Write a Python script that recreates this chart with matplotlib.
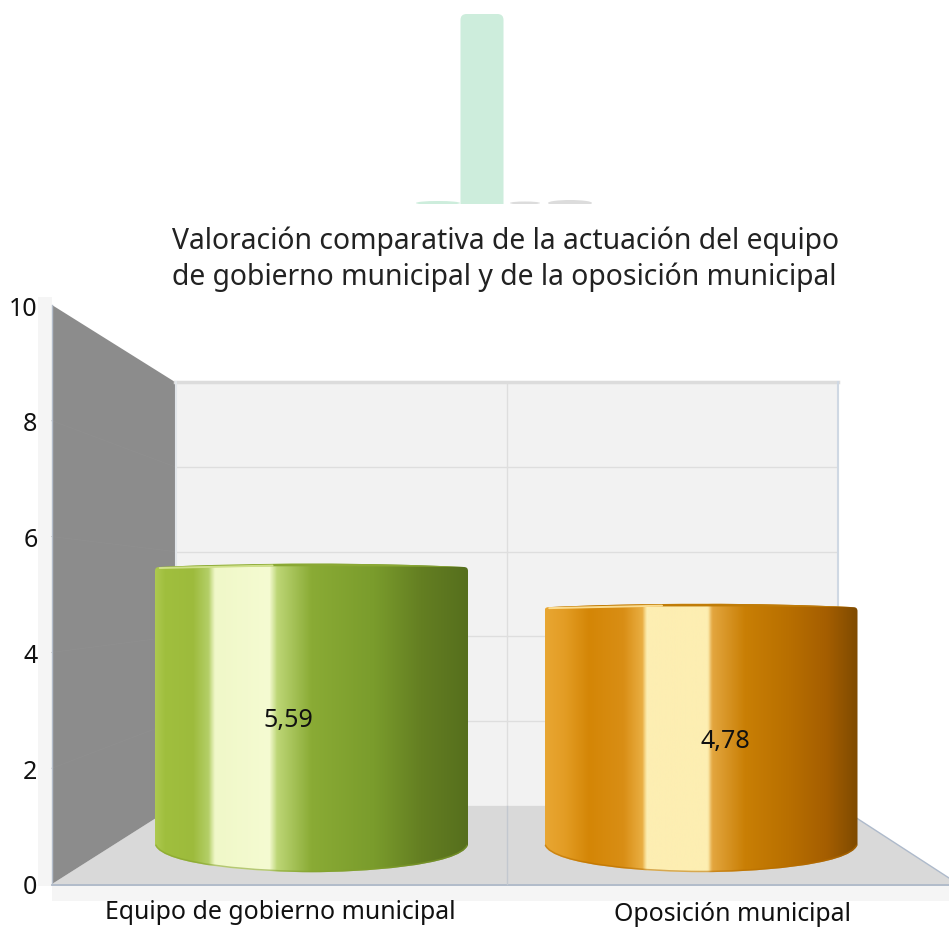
import numpy as np
import matplotlib
matplotlib.use('Agg')
import matplotlib.pyplot as plt
from matplotlib.colors import LinearSegmentedColormap
from matplotlib.path import Path
from matplotlib.patches import PathPatch, Polygon, Rectangle, FancyBboxPatch, Ellipse

plt.rcParams['font.family'] = ['Noto Sans', 'DejaVu Sans']

W, H = 949, 928

# data
categories = ['Equipo de gobierno municipal', 'Oposición municipal']
values = [5.59, 4.78]
y_ticks = [0, 2, 4, 6, 8, 10]
title = 'Valoración comparativa de la actuación del equipo\nde gobierno municipal y de la oposición municipal'

# faded remains of another chart at the top of the picture (height in pixels)
ghost_x = [438, 482, 525, 570]
ghost_h = [2, 190, 1.5, 3]
ghost_w = [44, 43, 30, 44]
ghost_c = ['#cdeddc', '#cdeddc', '#dcdcdc', '#dcdcdc']

# colour stops across the cylinders
green_stops = [(0, '#adc94f'), (.03, '#a0bf3e'), (.12, '#9dbb3c'), (.17, '#b4cf68'), (.19, '#f0f8c8'),
               (.365, '#f5fbd2'), (.39, '#bdd676'), (.5, '#8aab35'), (.7, '#7a9c2c'), (.85, '#647f22'), (1, '#566f1d')]
orange_stops = [(0, '#e8a632'), (.06, '#e39d25'), (.14, '#d48606'), (.25, '#d98e15'), (.31, '#e9ae42'), (.325, '#fdeeb2'),
                (.52, '#fdeeb2'), (.535, '#e3a63f'), (.64, '#c97f05'), (.78, '#b86f00'), (.9, '#a55e00'), (1, '#7f4b00')]
cmaps = [LinearSegmentedColormap.from_list('g', green_stops), LinearSegmentedColormap.from_list('o', orange_stops)]
rim_dark = ['#8aa834', '#c07c08']
rim_light = ['#cfe08a', '#fbdc90']
base_dark = ['#83a02c', '#b86f00']


def px_axes(x0, y_top, x1, y_bot, **kw):
    # axes placed using picture pixels
    return fig.add_axes([x0 / W, 1 - y_bot / H, (x1 - x0) / W, (y_bot - y_top) / H], **kw)


fig = plt.figure(figsize=(W / 100, H / 100), dpi=100, facecolor='white')

# back wall
back = px_axes(175, 383, 838, 807, facecolor='#f2f2f2', zorder=1)
back.set_ylim(0, 10)
back.set_xlim(175, 838)
back.set_xticks([])
back.set_yticks(y_ticks)
back.set_yticklabels([])
back.tick_params(length=0)
back.grid(axis='y', color='#dedede', lw=1)
back.axvline(507, color='#dedede', lw=1)
for s in back.spines.values():
    s.set_visible(False)

# pixel overlay for walls, floor and the faded shapes
chrome = fig.add_axes([0, 0, 1, 1], zorder=2, facecolor='none')
chrome.set_xlim(0, W)
chrome.set_ylim(H, 0)
chrome.axis('off')
chrome.add_patch(Rectangle((38, 298), 14, 589, fc='#f5f5f5', ec='none'))
chrome.add_patch(Rectangle((52, 887), 897, 15, fc='#f5f5f5', ec='none'))
chrome.add_patch(Polygon([(52, 885), (175, 807), (838, 807), (949, 879), (949, 885)], fc='#d9d9d9', ec='none'))
chrome.add_patch(Polygon([(52, 306), (175, 383), (175, 807), (52, 885)], fc='#8c8c8c', ec='none'))
for v in y_ticks[1:-1]:
    chrome.plot([52, 175], [885 - v * 57.9, 807 - v * 42.4], color='#8f8f8f', lw=.6)
chrome.plot([175, 838], [383, 383], color='#dcdcdc', lw=2.5)
chrome.plot([176, 176], [383, 807], color='#e2e6ea', lw=1.5)
chrome.plot([838, 838], [383, 807], color='#cfd8e3', lw=1.5)
chrome.plot([838, 949], [807, 879], color='#aebacb', lw=1)
chrome.plot([52, 949], [885.5, 885.5], color='#a3afc0', lw=1.2)
chrome.plot([52, 52], [306, 885], color='#b4bdca', lw=1)
chrome.plot([507, 507], [807, 885], color='#c3c8cf', lw=1)

for x, h, w, c in zip(ghost_x, ghost_h, ghost_w, ghost_c):
    if h > 10:
        chrome.add_patch(FancyBboxPatch((x - w / 2 + 4, 204 - h + 5), w - 8, h, boxstyle='round,pad=4,rounding_size=6',
                                        fc=c, ec='none', clip_on=True))
    else:
        chrome.add_patch(Ellipse((x, 204), w, 2 * h, fc=c, ec='none'))
chrome.add_patch(Rectangle((400, 204.5), 200, 10, fc='white', ec='none'))

# front scale with the tick labels
front = px_axes(52, 306, 949, 885, facecolor='none', zorder=3)
front.set_ylim(0, 10)
front.set_xticks([])
front.set_yticks(y_ticks)
front.tick_params(length=0, pad=10.5, labelsize=18, labelcolor='#111111')
for s in front.spines.values():
    s.set_visible(False)

# cylinders
px_y = 49.55
y_floor = -1.0
bars = px_axes(0, 349.5, W, 845 - y_floor * px_y, facecolor='none', zorder=4)
px_x = 389.5
xlim = (-311.5 / px_x, (W - 311.5) / px_x)
width = 313 / px_x
grad = np.linspace(0, 1, 512).reshape(1, -1)

for i, (val, cm) in enumerate(zip(values, cmaps)):
    l, r = i - width / 2, i + width / 2
    cx = 4 / px_x
    cy = 4 / px_y
    arc = 4.5 / px_y
    verts = [(l + cx, val), (l, val), (l, val - cy),
             (l, -0.02),
             (l + .02, -.45), (i - .12, -.57), (i, -.57),
             (i + .12, -.57), (r - .02, -.45), (r, -0.02),
             (r, val - cy),
             (r, val), (r - cx, val),
             (i + .15, val + arc), (i - .15, val + arc), (l + cx, val)]
    codes = [Path.MOVETO, Path.CURVE3, Path.CURVE3, Path.LINETO,
             Path.CURVE4, Path.CURVE4, Path.CURVE4, Path.CURVE4, Path.CURVE4, Path.CURVE4,
             Path.LINETO, Path.CURVE3, Path.CURVE3, Path.CURVE4, Path.CURVE4, Path.CURVE4]
    shape = PathPatch(Path(verts, codes), transform=bars.transData, fc='none', ec='none')
    bars.add_patch(shape)
    im = bars.imshow(grad, cmap=cm, extent=(l, r, y_floor, val + 1), aspect='auto', zorder=2, vmin=0, vmax=1)
    im.set_clip_path(shape)

    # lit top rim and darker lower edge
    top = Path([(l + cx, val), (i - .15, val + arc), (i + .15, val + arc), (r - cx, val),
                (i + .15, val + .02), (i - .15, val + .02), (l + cx, val)],
               [Path.MOVETO, Path.CURVE4, Path.CURVE4, Path.CURVE4, Path.CURVE4, Path.CURVE4, Path.CURVE4])
    bars.add_patch(PathPatch(top, fc=rim_dark[i], ec='none', zorder=3))
    bars.plot([l + .012, i - .1], [val - .02, val + .03], color=rim_light[i], lw=1.4, zorder=3, solid_capstyle='round')
    low = Path([(l, -0.02), (l + .02, -.45), (i - .12, -.57), (i, -.57),
                (i + .12, -.57), (r - .02, -.45), (r, -0.02)],
               [Path.MOVETO, Path.CURVE4, Path.CURVE4, Path.CURVE4, Path.CURVE4, Path.CURVE4, Path.CURVE4])
    edge = PathPatch(low, fc='none', ec=base_dark[i], lw=2.2, zorder=3, alpha=.55)
    bars.add_patch(edge)
    edge.set_clip_path(shape)

bars.set_xlim(*xlim)
bars.set_ylim(y_floor, 10)
bars.axis('off')

# text
text_ax = fig.add_axes([0, 0, 1, 1], zorder=5, facecolor='none')
text_ax.set_xlim(0, W)
text_ax.set_ylim(H, 0)
text_ax.axis('off')
text_ax.text(172, 259, title, fontsize=20.4, color='#222222', ha='left', va='center', linespacing=1.27)
for lab, x, y in zip(categories, [280, 733], [913, 915]):
    text_ax.text(x, y, lab, fontsize=17.9, color='#111111', ha='center', va='center')
for val, x, y in zip(values, [288, 725], [721, 742]):
    text_ax.text(x, y, f'{val:.2f}'.replace('.', ','), fontsize=18, color='#111111', ha='center', va='center')

fig.savefig('out.png', dpi=100)
